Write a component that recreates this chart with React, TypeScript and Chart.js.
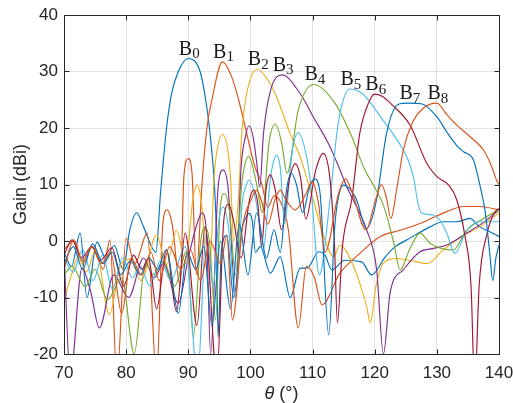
import React, { useEffect, useRef } from 'react';
import { Chart, registerables } from 'chart.js';

Chart.register(...registerables);

// Axis ranges and tick labels
const THETA_TICKS = [70, 80, 90, 100, 110, 120, 130, 140];
const GAIN_TICKS = [-20, -10, 0, 10, 20, 30, 40];

// Beam names (subscripts) and MATLAB-style line colours
const BEAM_INDEX = ['0', '1', '2', '3', '4', '5', '6', '7', '8'];
const BEAM_COLORS = ['#0072BD', '#D95319', '#EDB120', '#7E2F8E', '#77AC30', '#4DBEEE', '#A2142F', '#0072BD', '#D95319'];

// Gain patterns (theta in degrees, gain in dBi)
const B0_THETA = [70, 71.2, 72.6, 73.7, 75.3, 76.7, 78.1, 79.5, 80.6, 81.7, 82.8, 84.8, 85.5, 86.5, 87.3, 88.4, 90, 91.9, 92.8, 93.4, 94.2, 94.5, 94.8, 95.3, 96.2, 97.3, 98.6, 99.2, 99.8, 100.3, 100.8, 101.6, 103.2, 104.8, 106.4, 108, 109.1, 111, 112, 113.1, 115.2, 117.9, 119.5, 121.7, 123.3, 125.2, 128.9, 131, 133.2, 135.3, 136.9, 138.6, 140];
const B0_GAIN = [-2, -4.5, 1.4, -10, -0.2, -3, -0.8, -5, 2, 5.0, 2.5, -2, 8, 20, 26, 30, 32.3, 30, 25, 20, 10, 2, -17, -2, 1, -10, 2, 4, 4.9, 3.5, -2, -1, -5.7, -2.8, -10, -4.8, -4.8, -1.9, -2.5, -5.1, -3.4, -3.7, -6, -2.8, -1, 0.2, 2.5, 3.4, 3.4, 4.0, 2.5, 1.6, 0.8];

const B1_THETA = [70, 71.5, 73, 74.6, 76.3, 77.4, 78.5, 80, 81.4, 83.4, 84.9, 85.9, 86.6, 87.4, 88.7, 89.3, 90, 90.6, 91.3, 92.2, 93, 93.8, 95.5, 97, 98.1, 99.2, 100.7, 101.8, 102.8, 103.8, 104.8, 106.1, 107.7, 109, 110.3, 111.5, 114.4, 117.6, 120.9, 124.1, 127.3, 131.6, 134.3, 136.9, 140];
const B1_GAIN = [-1.5, 0, -4, -1, -5, 0.2, -24, 0.5, -4, 1.4, -24, 3, 5.5, 3, -8, 11.5, 14.6, 12, -6, 10, 20, 25, 31.7, 29, 25, 20, 13.2, 10.2, 6, 8, 7, 2, -15.4, -4.5, -6.5, -11.3, -5.7, -2.2, 0.8, 1.9, 3.1, 5.2, 6.1, 6.1, 5.5];

const B2_THETA = [70, 71.2, 72.3, 73.6, 75.1, 77.3, 79.2, 80.6, 82.4, 84.9, 86.5, 88.1, 89.6, 90.7, 91.4, 92.1, 93.3, 94.2, 94.7, 95.5, 96.3, 96.8, 97.3, 98.1, 98.6, 99.4, 101.1, 102.8, 104.2, 106.4, 108, 109, 110.1, 111.8, 113.4, 114.4, 116.6, 118.7, 119.3, 120.2, 121.4, 123.5, 126.8, 128.4, 131, 134, 136.9, 138.5, 140];
const B2_GAIN = [-10.5, -6, -2.8, -5.5, -1.5, -13, -4, -3.2, -7, 1.1, -4.2, 1.9, -4, 7, 9.9, 7, -8, 12, 16.5, 18.9, 16.5, 11, 0, 8, 19, 26.1, 30.4, 28.5, 25.5, 19, 14.9, 11.4, 7.3, 0.8, -2.8, -0.7, -4.5, -11.6, -14.5, -8, -3.9, -3.1, -3.7, -4, -1.6, 0.8, 2.5, 3.8, 4.9];

const B3_THETA = [70, 71, 72.9, 74.3, 75.7, 78, 80.4, 82.8, 84.5, 86, 88.4, 90, 91.4, 92.2, 92.9, 93.6, 94.8, 95.6, 96.4, 97.6, 98.5, 99.1, 99.8, 100.5, 101, 101.5, 102.1, 103.2, 105.1, 108, 110.1, 112.8, 114.4, 115.5, 117.1, 118.7, 120.3, 121.4, 122.5, 124.6, 127.3, 129.5, 131.6, 134.8, 137.5, 140];
const B3_GAIN = [-2, -24, -4.8, -9, -15.4, -6, -10, -3, -6.5, -4, -11, -3, 3, 5, 2, -20, 9.5, 12.6, 9.5, -10, 13, 18, 20.4, 18, 14, 9.5, 19, 26.5, 29.4, 26.1, 22, 16.7, 12.6, 9.6, 6, 2, -5, -20, -9, -5.1, -1.9, -1.3, -0.7, 1.4, 3.3, 5.5];

const B4_THETA = [70, 71.3, 73.4, 75, 77, 79.3, 81.3, 83.1, 84.5, 86, 87.8, 89.8, 90.8, 92, 92.7, 93.4, 94.4, 95.1, 95.8, 96.6, 97.6, 98.6, 99.1, 99.7, 100.4, 101.1, 101.9, 103, 104, 105, 105.9, 107.7, 110.2, 113.6, 116.3, 118.4, 120, 121.5, 123, 124.1, 125.6, 127.3, 128.9, 132.6, 134.8, 138, 140];
const B4_GAIN = [-6, -4.5, -8.1, -5, -10.4, -6.5, -20, -4, -6, -3.5, -8, -1.6, -17, 0, 2.5, 0, -14, 5.5, 8.4, 5.5, -6, 10, 13.5, 15, 13, 9.5, 5, 17.5, 20.7, 17.5, 12, 23.2, 27.7, 24.4, 18.5, 12.6, 9.5, 6, 0, -5.1, -1.5, 1.4, -0.4, -1.6, 1.9, 4.3, 5.5];

const B5_THETA = [70, 71.5, 73, 74.7, 76.2, 77.8, 79.4, 81, 82.3, 83.8, 85.5, 87.2, 89.5, 91.5, 92.9, 94, 94.9, 95.6, 96.4, 97.6, 98.7, 99.2, 99.8, 100.5, 101.2, 102, 103.2, 103.7, 104.2, 104.8, 105.5, 106.4, 106.9, 107.7, 108.6, 109.6, 111.1, 112.8, 113.9, 114.7, 116, 118.3, 120.9, 123.6, 125.4, 126.3, 126.9, 127.5, 129.4, 130.6, 131.6, 132.9, 134.8, 136.9, 140];
const B5_GAIN = [-3, -5.5, -1.5, -7, -2.5, -8.5, -3, -6.5, -4.5, -8, -3.5, -7, -1, -24, 1.5, -8, 3.5, 6, 3, -10, 7, 9.5, 10.8, 9, 5, -2, 11, 14, 15.2, 13, 3, 12.6, 17, 19.2, 17, 11, -6, 7.3, 19, 24, 26.9, 25.8, 22, 17.9, 14.3, 11, 7, 5, 4.6, 3.5, 1.4, -2.2, 1.9, 3.4, 3.4];

const B6_THETA = [70, 71.3, 72.8, 74.5, 75.8, 77.7, 79.6, 81.2, 82.5, 83.6, 84.9, 86.5, 88.1, 89.5, 91.4, 92.7, 94.6, 95.7, 96.5, 97.3, 98.5, 99.8, 100.5, 101.2, 101.8, 102.5, 103.2, 104, 105, 106.3, 107.2, 108.1, 108.9, 110.5, 111.7, 112.8, 113.5, 114, 114.8, 116.3, 117.6, 119, 120, 121.2, 122.5, 125.7, 128.4, 130, 131.9, 133.2, 134.5, 135.5, 136.1, 136.8, 138, 139.6, 140];
const B6_GAIN = [-2.5, 0.2, -3, -1, -3.5, -1.2, -8, -2.5, -5, -3, -12, -1.6, -12.5, 1.4, -15, 2.5, -24, 3.5, 6.5, 3.5, -3, 7, 9, 6.5, -1, 9, 11.7, 9, 2, 11, 13.7, 11, 3.9, 12.5, 15.5, 11, 0, -14.5, -1, 7.3, 19.1, 24.4, 26, 25.6, 24.4, 20.5, 13.7, 11.4, 9.9, 7.3, 1, -8, -26, -8, 1, 5.5, 5.7];

const B7_THETA = [70, 71.5, 73, 74.6, 76.3, 77.8, 79.1, 80.7, 82.3, 83.7, 85, 86.5, 88.4, 89.8, 91.2, 92.5, 93.8, 95.2, 96.8, 98.2, 99.6, 101, 102.6, 103.8, 104.8, 105.8, 106.6, 107.4, 108.4, 109.5, 110.3, 111.2, 112.6, 113.6, 114.3, 115, 117, 118.7, 120.3, 121.9, 123.8, 125.5, 127.5, 130, 131.6, 133.2, 134.3, 135.9, 136.9, 137.8, 138.5, 139, 139.5, 140];
const B7_GAIN = [-4, -1, -5, -0.5, -4, -2, -6, -3.5, -6, -3, -5, -1.5, -12.8, -2, -5, -1, -15, 0, -12, 3, -6, 5, -3, 2, -2, 9, 12, 10, 5, 9.5, 11, 8.5, -16.6, 3, 8.5, 9.9, 7.5, 2.2, 7.3, 19, 24.2, 24.4, 24.3, 22, 19.3, 16.9, 15.8, 14.3, 10, 5, -2, -7, -3, -0.7];

const B8_THETA = [70, 71.6, 73, 74.5, 76, 77.5, 79.3, 80.8, 82.5, 84, 85.3, 87, 88.8, 90.3, 92, 93.5, 95.2, 96.2, 97.1, 98.8, 100.2, 101, 101.8, 102.8, 104, 104.8, 105.6, 107.2, 109, 109.9, 110.9, 112, 114.2, 115.3, 116.4, 118.6, 120.2, 121.1, 121.9, 122.6, 123.6, 124.6, 126, 127.8, 130, 131.5, 133.2, 135.3, 137.5, 138.7, 139.6, 140];
const B8_GAIN = [-5, 0.2, -3.5, -1, -4, -2, -12.8, -3, -6, -2, -7, -1, -5, -1.5, -7, 0, -4, 1, -14, 3, 7.5, 9, 7, 3, 7.5, 9, 7.5, 5.5, 8.5, 10.5, 7, -2, 8.5, 11, 8.5, 2, 7.5, 10, 7.5, 4, 9.6, 16.1, 20.8, 23.5, 24.4, 22.5, 20.5, 18.5, 16.1, 13.5, 10.8, 10];

const BEAM_THETA = [B0_THETA, B1_THETA, B2_THETA, B3_THETA, B4_THETA, B5_THETA, B6_THETA, B7_THETA, B8_THETA];
const BEAM_GAIN = [B0_GAIN, B1_GAIN, B2_GAIN, B3_GAIN, B4_GAIN, B5_GAIN, B6_GAIN, B7_GAIN, B8_GAIN];

const AXIS_COLOR = '#262626';
const SANS = '"Liberation Sans", Arial, Helvetica, sans-serif';
const SERIF = '"Liberation Serif", "Times New Roman", serif';

const crisp = (v: number) => Math.round(v) + 0.5;

// Box, inward tick marks, beam tags and axis titles
const decorations = {
  id: 'decorations',
  afterDatasetsDraw(chart: any) {
    const { ctx, chartArea: a, scales } = chart;
    const xs = scales.x;
    const ys = scales.y;
    const L = crisp(a.left), R = crisp(a.right), T = crisp(a.top), B = crisp(a.bottom);
    ctx.save();
    ctx.strokeStyle = AXIS_COLOR;
    ctx.lineWidth = 1;
    ctx.beginPath();
    ctx.rect(L, T, R - L, B - T);
    const tick = 5;
    THETA_TICKS.forEach((v) => {
      const p = crisp(xs.getPixelForValue(v));
      ctx.moveTo(p, B); ctx.lineTo(p, B - tick);
      ctx.moveTo(p, T); ctx.lineTo(p, T + tick);
    });
    GAIN_TICKS.forEach((v) => {
      const p = crisp(ys.getPixelForValue(v));
      ctx.moveTo(L, p); ctx.lineTo(L + tick, p);
      ctx.moveTo(R, p); ctx.lineTo(R - tick, p);
    });
    ctx.stroke();

    // Beam tags B_n above each main-lobe peak
    ctx.fillStyle = '#1a1a1a';
    ctx.textBaseline = 'alphabetic';
    ctx.textAlign = 'left';
    const bigFont = `20px ${SERIF}`;
    const subFont = `15px ${SERIF}`;
    BEAM_GAIN.forEach((gain, i) => {
      let k = 0;
      gain.forEach((g, j) => { if (g > gain[k]) k = j; });
      const px = xs.getPixelForValue(BEAM_THETA[i][k]);
      const py = ys.getPixelForValue(gain[k]);
      ctx.font = bigFont;
      const wB = ctx.measureText('B').width;
      ctx.font = subFont;
      const wD = ctx.measureText(BEAM_INDEX[i]).width;
      const x0 = px - (wB + wD) / 2 + 1;
      ctx.font = bigFont;
      ctx.fillText('B', x0, py - 4);
      ctx.font = subFont;
      ctx.fillText(BEAM_INDEX[i], x0 + wB, py - 0.5);
    });

    // Axis titles
    ctx.fillStyle = AXIS_COLOR;
    ctx.textBaseline = 'middle';
    const italic = `italic 18px ${SANS}`;
    const normal = `18px ${SANS}`;
    ctx.font = italic;
    const wTheta = ctx.measureText('θ').width;
    ctx.font = normal;
    const wRest = ctx.measureText(' (°)').width;
    const cx = (a.left + a.right) / 2;
    const xStart = cx - (wTheta + wRest) / 2;
    ctx.font = italic;
    ctx.fillText('θ', xStart, a.bottom + 40);
    ctx.font = normal;
    ctx.fillText(' (°)', xStart + wTheta, a.bottom + 40);

    ctx.translate(a.left - 43, (a.top + a.bottom) / 2);
    ctx.rotate(-Math.PI / 2);
    ctx.textAlign = 'center';
    ctx.font = normal;
    ctx.fillText('Gain (dBi)', 0, 0);
    ctx.restore();
  },
};

export default function App() {
  const canvasRef = useRef<HTMLCanvasElement | null>(null);

  useEffect(() => {
    if (!canvasRef.current) return;
    const datasets = BEAM_GAIN.map((gain, i) => ({
      label: 'B' + BEAM_INDEX[i],
      data: gain.map((g, j) => ({ x: BEAM_THETA[i][j], y: g })),
      borderColor: BEAM_COLORS[i],
      borderWidth: 1.15,
      pointRadius: 0,
      fill: false,
      cubicInterpolationMode: 'monotone' as const,
      order: BEAM_GAIN.length - 1 - i,
    }));

    const chart = new Chart(canvasRef.current, {
      type: 'line',
      data: { datasets },
      options: {
        animation: false,
        responsive: false,
        events: [],
        layout: { padding: { left: 0, right: 14, top: 15, bottom: 0 } },
        plugins: { legend: { display: false }, tooltip: { enabled: false } },
        scales: {
          x: {
            type: 'linear',
            min: THETA_TICKS[0],
            max: THETA_TICKS[THETA_TICKS.length - 1],
            afterBuildTicks: (s: any) => { s.ticks = THETA_TICKS.map((v) => ({ value: v })); },
            afterFit: (s: any) => { s.height = 49; s.paddingLeft = 0; s.paddingRight = 0; },
            grid: { color: '#e2e2e2', lineWidth: 1, drawTicks: false },
            border: { display: false },
            ticks: { color: AXIS_COLOR, font: { family: SANS, size: 17 }, padding: 9, maxRotation: 0, autoSkip: false },
          },
          y: {
            type: 'linear',
            min: GAIN_TICKS[0],
            max: GAIN_TICKS[GAIN_TICKS.length - 1],
            afterBuildTicks: (s: any) => { s.ticks = GAIN_TICKS.map((v) => ({ value: v })); },
            afterFit: (s: any) => { s.width = 64; s.paddingTop = 0; s.paddingBottom = 0; },
            grid: { color: '#e2e2e2', lineWidth: 1, drawTicks: false },
            border: { display: false },
            ticks: { color: AXIS_COLOR, font: { family: SANS, size: 17 }, padding: 6, autoSkip: false },
          },
        },
      },
      plugins: [decorations],
    });
    return () => chart.destroy();
  }, []);

  return (
    <div style={{ position: 'fixed', left: 0, top: 0, width: 513, height: 403, background: '#ffffff' }}>
      <canvas ref={canvasRef} width={513} height={403} style={{ display: 'block', width: 513, height: 403 }} />
    </div>
  );
}
